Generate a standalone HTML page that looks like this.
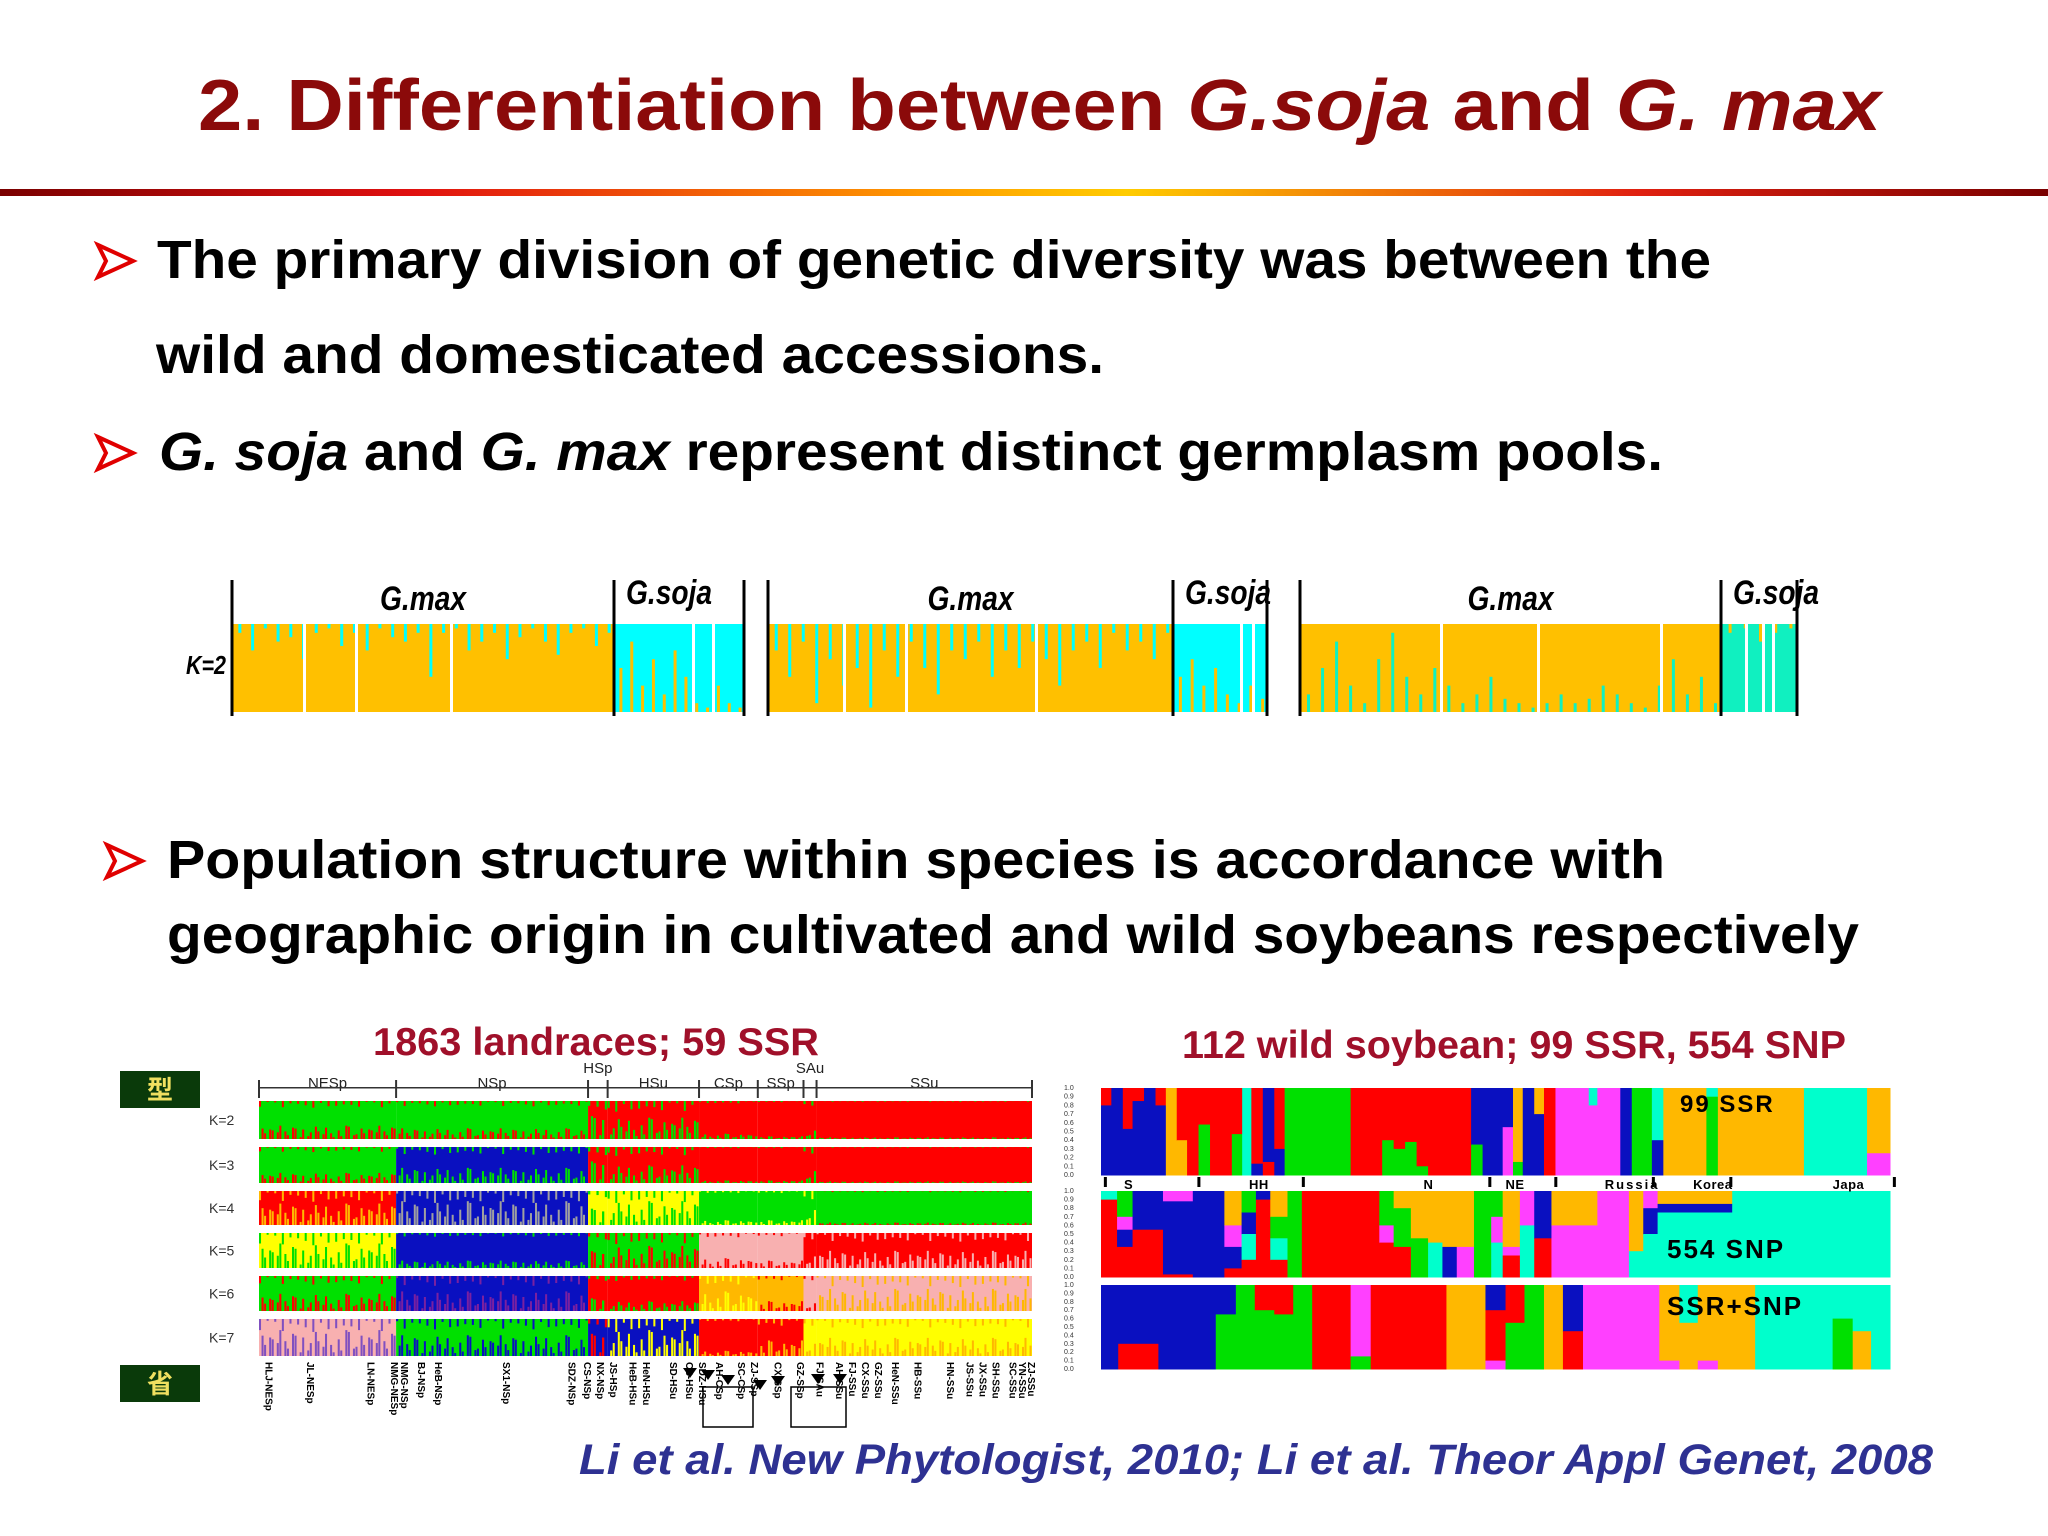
<!DOCTYPE html>
<html><head><meta charset="utf-8"><style>
html,body{margin:0;padding:0;background:#fff;}
svg{display:block;}
text{font-family:"Liberation Sans","Noto Sans CJK SC",sans-serif;}
</style></head><body>
<svg id="s" width="2048" height="1536" viewBox="0 0 2048 1536" xmlns="http://www.w3.org/2000/svg">
<defs>
<linearGradient id="rule" x1="0" x2="1" y1="0" y2="0">
<stop offset="0" stop-color="#7a0000"/><stop offset="0.2" stop-color="#e01010"/><stop offset="0.45" stop-color="#ff9900"/><stop offset="0.55" stop-color="#ffcc00"/><stop offset="0.8" stop-color="#e02010"/><stop offset="1" stop-color="#7a0000"/>
</linearGradient>
</defs>
<text x="198" y="130" font-size="72" font-weight="bold" fill="#8b0a0a" textLength="1683" lengthAdjust="spacingAndGlyphs">2. Differentiation between <tspan font-style="italic">G.soja</tspan> and <tspan font-style="italic">G. max</tspan></text>
<rect x="0" y="189" width="2048" height="7" fill="url(#rule)"/>

<g>
<path d="M98 245 L133 261 L98 277 L106 261 Z" fill="none" stroke="#e00000" stroke-width="4" stroke-linejoin="miter"/>
<text x="157" y="278" font-size="54" font-weight="bold" fill="#000" textLength="1554" lengthAdjust="spacingAndGlyphs">The primary division of genetic diversity was between the</text>
<text x="156" y="373" font-size="54" font-weight="bold" fill="#000" textLength="948" lengthAdjust="spacingAndGlyphs">wild and domesticated accessions.</text>
</g>
<g>
<path d="M98 437 L133 453 L98 469 L106 453 Z" fill="none" stroke="#e00000" stroke-width="4"/>
<text x="159" y="470" font-size="54" font-weight="bold" fill="#000" textLength="1504" lengthAdjust="spacingAndGlyphs"><tspan font-style="italic">G. soja</tspan> and <tspan font-style="italic">G. max</tspan> represent distinct germplasm pools.</text>
</g>

<g id="strip"></g>

<g>
<path d="M107 845 L142 861 L107 877 L115 861 Z" fill="none" stroke="#e00000" stroke-width="4"/>
<text x="167" y="878" font-size="54" font-weight="bold" fill="#000" textLength="1498" lengthAdjust="spacingAndGlyphs">Population structure within species  is accordance with</text>
<text x="167" y="953" font-size="54" font-weight="bold" fill="#000" textLength="1692" lengthAdjust="spacingAndGlyphs">geographic origin in cultivated and wild soybeans respectively</text>
</g>

<text x="373" y="1055" font-size="39" font-weight="bold" fill="#a0102a" textLength="446" lengthAdjust="spacingAndGlyphs">1863 landraces; 59 SSR</text>
<text x="1182" y="1058" font-size="39" font-weight="bold" fill="#a0102a" textLength="664" lengthAdjust="spacingAndGlyphs">112 wild soybean; 99 SSR, 554 SNP</text>

<g><rect x="120" y="1071" width="80" height="37" fill="#0a3a0a"/><text x="160" y="1099" font-size="26" font-weight="bold" fill="#f0e060" text-anchor="middle">型</text></g>
<g><rect x="120" y="1365" width="80" height="37" fill="#0a3a0a"/><text x="160" y="1393" font-size="26" font-weight="bold" fill="#f0e060" text-anchor="middle">省</text></g>

<g id="land"></g>
<g id="wild"></g>

<text x="579" y="1474" font-size="43" font-weight="bold" font-style="italic" fill="#2e3192" textLength="1354" lengthAdjust="spacingAndGlyphs">Li et al. New Phytologist, 2010; Li et al. Theor Appl Genet, 2008</text>
</svg>
<script>
// ---------- data: K=2 strip ----------
const stripLabels = ['G.max','G.soja'];
const p1MaxSpikes = [0.1,0.3,0.05,0.2,0.15,0.4,0.1,0.05,0.25,0.1,0.3,0.05,0.15,0.2,0.1,0.6,0.1,0.05,0.3,0.2,0.1,0.4,0.15,0.05,0.2,0.35,0.1,0.05,0.25,0.1];
const p1SojaSpikes = [0.5,0.8,0.3,0.6,0.2,0.7,0.4,0.1,0.05,0.3,0.1,0.05];
const p2MaxSpikes = [0.3,0.6,0.2,0.9,0.4,0.7,0.5,0.95,0.3,0.6,0.2,0.5,0.8,0.3,0.4,0.2,0.6,0.3,0.5,0.2,0.4,0.7,0.3,0.2,0.5,0.1,0.3,0.2,0.4,0.1];
const p2SojaSpikes = [0.4,0.6,0.3,0.5,0.2,0.1,0.3,0.15];
const p3MaxSpikes = [0.2,0.5,0.8,0.3,0.1,0.6,0.9,0.4,0.2,0.5,0.3,0.1,0.2,0.4,0.15,0.1,0.05,0.1,0.2,0.1,0.15,0.3,0.2,0.1,0.05,0.3,0.6,0.2,0.4,0.1];
const p3SojaSpikes = [0.1,0.05,0.2,0.1,0.05];

// ---------- data: landraces ----------
const landGroups = ['NESp','NSp','HSp','HSu','CSp','SSp','SAu','SSu'];
const landGroupSizes = [105,147,15,70,45,35,10,165];
const kLabels = ['K=2','K=3','K=4','K=5','K=6','K=7'];
// per row: [primary, secondary, secondary share] per group
const rowK2 = [['G','R',0.25],['G','R',0.2],['R','G',0.5],['R','G',0.4],['R','G',0.1],['R','G',0.05],['R','G',0.2],['R','G',0.03]];
const rowK3 = [['G','R',0.2],['B','G',0.3],['R','G',0.5],['R','G',0.35],['R','G',0.05],['R','G',0.05],['R','G',0.3],['R','G',0.03]];
const rowK4 = [['R','O',0.45],['B','#a0a0a0',0.5],['Y','G',0.4],['Y','G',0.5],['G','Y',0.1],['G','Y',0.1],['G','Y',0.4],['G','R',0.05]];
const rowK5 = [['Y','G',0.5],['B','G',0.15],['G','R',0.4],['G','R',0.45],['K','R',0.2],['K','R',0.15],['R','K',0.3],['R','K',0.35]];
const rowK6 = [['G','R',0.35],['B','#7a20a0',0.4],['R','G',0.3],['R','G',0.2],['O','Y',0.4],['O','R',0.2],['K','R',0.2],['K','O',0.45]];
const rowK7 = [['K','#8050c0',0.5],['G','B',0.4],['B','R',0.5],['B','Y',0.5],['R','O',0.1],['R','O',0.3],['Y','O',0.3],['Y','O',0.35]];
const landRows = [rowK2,rowK3,rowK4,rowK5,rowK6,rowK7];
const provinceLabels = ['HLJ-NESp','JL-NESp','LN-NESp','NMG-NESp','NMG-NSp','BJ-NSp','HeB-NSp','SX1-NSp','SDZ-NSp','CS-NSp','NX-NSp','JS-HSp','HeB-HSu','HeN-HSu','SD-HSu','CS-HSu','SDZ-HSu','AH-CSp','SC-CSp','ZJ-SSp','CX-SSp','GZ-SSp','FJ-SAu','AH-SSu','FJ-SSu','CX-SSu','GZ-SSu','HeN-SSu','HB-SSu','HN-SSu','JS-SSu','JX-SSu','SH-SSu','SC-SSu','YN-SSu','ZJ-SSu'];
const provincePos = [8,40,86,104,112,125,138,190,240,252,262,272,287,297,318,330,340,353,370,380,398,415,430,445,455,465,475,488,505,530,545,555,565,578,585,592];

// ---------- data: wild soybean (block width, then stacked colours top->bottom with shares) ----------
const wildPops = ['S','HH','N','NE','Russia','Korea','Japan'];
const wildPopTicks = [5,168,350,675,790,960,1095,1380];
const wildPopLabelPos = [40,258,562,705,878,1032,1275];
const yTicks = ['1.0','0.9','0.8','0.7','0.6','0.5','0.4','0.3','0.2','0.1','0.0'];
const ssrBlocks = [[18,'R',.2,'B',.8],[20,'B',1],[17,'R',.47,'B',.53],[20,'R',.15,'B',.85],[20,'B',1],[18,'R',.2,'B',.8],[19,'O',1],[18,'R',.6,'O',.4],[20,'R',1],[20,'R',.42,'G',.58],[38,'R',1],[18,'R',.53,'G',.47],[16,'C',1],[20,'R',.87,'B',.13],[20,'B',.85,'R',.15],[18,'R',.7,'B',.3],[115,'G',1],[55,'R',1],[20,'R',.6,'G',.4],[20,'R',.7,'G',.3],[20,'R',.62,'G',.38],[20,'R',.9,'G',.1],[75,'R',1],[20,'B',.65,'G',.35],[35,'B',1],[18,'B',.45,'P',.55],[17,'O',.85,'G',.15],[20,'B',1],[17,'O',.3,'B',.7],[20,'R',1],[58,'P',1],[15,'C',.2,'P',.8],[40,'P',1],[20,'B',1],[35,'G',1],[20,'C',.6,'B',.4],[75,'O',1],[20,'C',.1,'G',.9],[150,'O',1],[110,'C',1],[40,'O',.75,'P',.25]];
const snpBlocks = [[28,'C',.1,'R',.9],[27,'G',.3,'P',.15,'B',.2,'R',.35],[53,'B',.45,'R',.55],[52,'P',.12,'B',.85,'R',.03],[55,'B',1],[30,'O',.4,'P',.25,'B',.25,'R',.1],[25,'G',.25,'B',.25,'C',.3,'R',.2],[25,'B',.1,'R',.9],[30,'O',.3,'G',.25,'C',.25,'R',.2],[25,'G',1],[135,'R',1],[25,'G',.4,'P',.2,'R',.4],[30,'O',.2,'G',.45,'R',.35],[30,'O',.55,'G',.45],[25,'O',.6,'C',.4],[25,'O',.65,'B',.35],[30,'O',.65,'P',.35],[30,'G',1],[20,'G',.3,'P',.3,'C',.4],[30,'O',.65,'P',.1,'R',.25],[25,'P',.4,'C',.6],[30,'B',.55,'R',.45],[80,'O',.4,'P',.6],[55,'P',1],[25,'O',.7,'C',.3],[25,'P',.2,'B',.3,'C',.5],[130,'O',.15,'B',.1,'C',.75],[275,'C',1]];
const comboBlocks = [[30,'B',1],[70,'B',.7,'R',.3],[100,'B',1],[35,'B',.35,'G',.65],[33,'G',1],[34,'R',.3,'G',.7],[33,'R',.35,'G',.65],[33,'G',1],[67,'R',1],[35,'P',.85,'G',.15],[132,'R',1],[68,'O',1],[35,'B',.3,'R',.6,'P',.1],[33,'R',.45,'G',.55],[34,'G',1],[33,'O',1],[35,'B',.55,'R',.45],[133,'P',1],[35,'O',.9,'P',.1],[32,'C',.45,'O',.55],[35,'O',.9,'P',.1],[65,'O',1],[135,'C',1],[35,'C',.4,'G',.6],[32,'C',.55,'O',.45],[33,'C',1]];
const wildPanelNames = ['99 SSR','554 SNP','SSR+SNP'];

// ---------- rendering ----------
const NS='http://www.w3.org/2000/svg';
const COL={R:'#ff0000',G:'#00e000',B:'#0a10c0',O:'#ffb800',Y:'#ffff00',C:'#00ffcc',P:'#ff40ff',K:'#f8b0b0'};
const col=c=>COL[c]||c;
function el(p,tag,a){const e=document.createElementNS(NS,tag);for(const k in a)e.setAttribute(k,a[k]);p.appendChild(e);return e;}

// strip
const strip=document.getElementById('strip');
const stripPanels=[
 {x0:232,xs:614,x1:744,cyan:'#00ffff',max:p1MaxSpikes,soja:p1SojaSpikes,mode:0,seps:[303,355,450,692,712]},
 {x0:768,xs:1173,x1:1267,cyan:'#00ffff',max:p2MaxSpikes,soja:p2SojaSpikes,mode:0,seps:[843,905,1035,1240,1252]},
 {x0:1300,xs:1721,x1:1797,cyan:'#10f0c0',max:p3MaxSpikes,soja:p3SojaSpikes,mode:1,seps:[1440,1537,1660,1745,1762,1772]}];
const sy0=624,sy1=712,sh=sy1-sy0;
const tk=el(strip,'text',{x:186,y:674,'font-size':26,'font-weight':'bold','font-style':'italic',textLength:40,lengthAdjust:'spacingAndGlyphs'});tk.textContent='K=2';


stripPanels.forEach((p,pi)=>{
 const gm=el(strip,'rect',{x:p.x0,y:sy0,width:p.xs-p.x0,height:sh,fill:'#ffc000'});
 
 
 const gs=el(strip,'rect',{x:p.xs,y:sy0,width:p.x1-p.xs,height:sh,fill:p.cyan});
 
 
 const dm=(p.xs-p.x0)/p.max.length;
 p.max.forEach((v,i)=>{const h=v*sh;const x=p.x0+dm*(i+0.5);
  const s=el(strip,'rect',{x:x,y:p.mode?sy1-h:sy0,width:3,height:h,fill:p.cyan});
  
  });
 const ds=(p.x1-p.xs)/p.soja.length;
 p.soja.forEach((v,i)=>{const h=v*sh;const x=p.xs+ds*(i+0.5);
  const s=el(strip,'rect',{x:x,y:p.mode?sy0:sy1-h,width:3,height:h,fill:'#ffc000'});
  
  });
 p.seps.forEach(x=>el(strip,'rect',{x:x,y:sy0,width:3,height:sh,fill:'#fff'}));
 [p.x0,p.xs,p.x1].forEach(x=>el(strip,'rect',{x:x-1.5,y:580,width:3,height:136,fill:'#000'}));
 const l1=el(strip,'text',{x:(p.x0+p.xs)/2,y:610,'font-size':34,'font-weight':'bold','font-style':'italic','text-anchor':'middle',textLength:86,lengthAdjust:'spacingAndGlyphs'});l1.textContent=stripLabels[0];
 
 
 const l2=el(strip,'text',{x:p.xs+12,y:604,'font-size':34,'font-weight':'bold','font-style':'italic',textLength:86,lengthAdjust:'spacingAndGlyphs'});l2.textContent=stripLabels[1];
 
 
});

// landraces
const land=document.getElementById('land');
const LX0=259,LX1=1032;
const totalL=landGroupSizes.reduce((a,b)=>a+b,0);
const lx=u=>LX0+u/totalL*(LX1-LX0);
const rowY=[[1101,1139],[1147,1183],[1191,1225],[1233,1268],[1276,1311],[1319,1356]];
const texture=[1.2,0.6,1.0,0.3,1.4,0.8,0.5,1.1,0.2,0.9,0.7,1.3,0.4];
let cum=[0];landGroupSizes.forEach(s=>cum.push(cum[cum.length-1]+s));
landGroups.forEach((g,i)=>{
 const t=el(land,'text',{x:(lx(cum[i])+lx(cum[i+1]))/2,y:(g==='HSp'||g==='SAu')?1073:1088,'font-size':15,'text-anchor':'middle',fill:'#222'});t.textContent=g;
 
 
});
cum.forEach(c=>el(land,'rect',{x:lx(c)-1,y:1080,width:2,height:18,fill:'#333'}));
el(land,'rect',{x:LX0,y:1087,width:LX1-LX0,height:1.5,fill:'#333'});
landRows.forEach((row,r)=>{
 const [y0,y1]=rowY[r];const h=y1-y0;
 const lab=el(land,'text',{x:209,y:(y0+y1)/2+5,'font-size':14,fill:'#333'});lab.textContent=kLabels[r];
 
 
 row.forEach((cell,gi)=>{
  const xa=lx(cum[gi]),xb=lx(cum[gi+1]);
  const b=el(land,'rect',{x:xa,y:y0,width:xb-xa,height:h,fill:col(cell[0])});
  
  
  const n=Math.max(1,Math.floor((xb-xa)/2.5));const w=(xb-xa)/n;
  for(let i=0;i<n;i++){const hh=Math.min(1,cell[2]*texture[(i*7+gi*3)%texture.length])*h;
   const fromTop=(i%3===0);
   el(land,'rect',{x:xa+i*w,y:fromTop?y0:y1-hh,width:w*0.8,height:fromTop?hh*0.5:hh,fill:col(cell[1])});}
 });
});
provinceLabels.forEach((s,i)=>{
 const x=lx(provincePos[i]);
 const t=el(land,'text',{x:0,y:0,'font-size':10,'font-weight':'bold',transform:`translate(${x-4},1362) rotate(90)`});t.textContent=s;
 
 
});
[[703,1387,50,40],[791,1387,55,40]].forEach(b=>el(land,'rect',{x:b[0],y:b[1],width:b[2],height:b[3],fill:'none',stroke:'#000','stroke-width':1.5}));
[[690,1378],[708,1380],[728,1385],[760,1390],[778,1386],[818,1384],[840,1384]].forEach(p=>el(land,'path',{d:`M${p[0]-7} ${p[1]-10} L${p[0]+7} ${p[1]-10} L${p[0]} ${p[1]} Z`,fill:'#000'}));

// wild
const wild=document.getElementById('wild');
const WX0=1101,WX1=1890;
const panelsY=[[1088,1175],[1191,1277],[1285,1369]];
const allBlocks=[ssrBlocks,snpBlocks,comboBlocks];
allBlocks.forEach((blocks,pi)=>{
 const total=blocks.reduce((a,b)=>a+b[0],0);
 const wx=u=>WX0+u/total*(WX1-WX0);
 const [y0,y1]=panelsY[pi];const h=y1-y0;
 let acc=0;
 blocks.forEach(b=>{
  let yy=y0;
  for(let k=1;k<b.length;k+=2){const hh=b[k+1]*h;
   const r=el(wild,'rect',{x:wx(acc),y:yy,width:wx(acc+b[0])-wx(acc)+0.5,height:hh+0.5,fill:col(b[k])});
   
   
   yy+=hh;}
  acc+=b[0];
 });
 yTicks.forEach((t,i)=>{const tt=el(wild,'text',{x:1064,y:y0+2+i*(h/(yTicks.length-1)),'font-size':7,fill:'#333'});tt.textContent=t;});
 const nm=el(wild,'text',{x:pi===0?1680:1667,y:pi===0?1112:(pi===1?1258:1315),'font-size':pi===0?24:26,'font-weight':'bold',fill:'#000','letter-spacing':2});nm.textContent=wildPanelNames[pi];
 
 
});
const totalW=1375;
const wpx=u=>WX0+u/totalW*(WX1-WX0);
wildPopTicks.forEach(u=>el(wild,'rect',{x:wpx(u),y:1177,width:3,height:10,fill:'#000'}));
wildPops.forEach((p,i)=>{
 const t=el(wild,'text',{x:wpx(wildPopLabelPos[i]),y:1189,'font-size':13,'font-weight':'bold','letter-spacing':p==='Russia'?2:0.5});t.textContent=p==='Japan'?'Japa':p;
 
 
});
</script>
</body></html>
